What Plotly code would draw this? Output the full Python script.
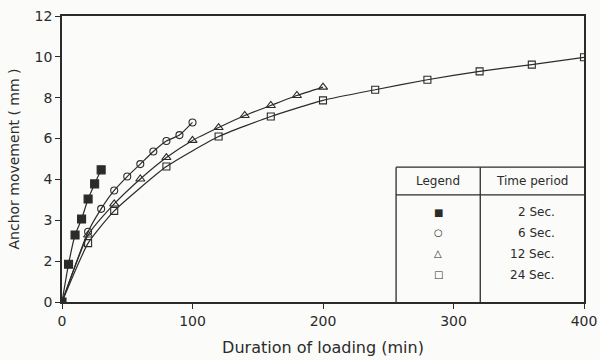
import numpy as np
import plotly.graph_objects as go

# ---- data ----
x_2s = [0, 5, 10, 15, 20, 25, 30]
y_2s = [0, 1.85, 2.64, 3.03, 3.52, 3.89, 4.47]

x_6s = [0, 20, 30, 40, 50, 60, 70, 80, 90, 100]
y_6s = [0, 2.72, 3.28, 3.73, 4.14, 4.75, 5.37, 5.88, 6.17, 6.79]

x_12s = [0, 20, 40, 60, 80, 100, 120, 140, 160, 180, 200]
y_12s = [0, 2.64, 3.40, 4.02, 5.07, 5.91, 6.54, 7.13, 7.62, 8.11, 8.52]

x_24s = [0, 20, 40, 80, 120, 160, 200, 240, 280, 320, 360, 400]
y_24s = [0, 2.44, 3.23, 4.63, 6.10, 7.08, 7.87, 8.39, 8.88, 9.29, 9.62, 9.98]

y_tick_labels = [0, 2, 3, 4, 6, 8, 10, 12]   # as printed (evenly spaced on the axis)
x_ticks = [0, 100, 200, 300, 400]

legend_periods = ["2 Sec.", "6 Sec.", "12 Sec.", "24 Sec."]
legend_symbols = ["\u25A0", "\u25CB", "\u25B3", "\u25A1"]

# ---- axis mapping: printed labels sit at equal spacing ----
tick_pos = list(range(len(y_tick_labels)))


def ymap(v):
    return np.interp(v, y_tick_labels, tick_pos)


INK = "#2b2b2b"
FONT = "DejaVu Sans"

series = [
    (x_2s, y_2s, "square", 8, True),
    (x_6s, y_6s, "circle-open", 7, False),
    (x_12s, y_12s, "triangle-up-open", 8, False),
    (x_24s, y_24s, "square-open", 7, False),
]

fig = go.Figure()
for xs, ys, sym, size, keep_origin in series:
    yp = ymap(ys)
    fig.add_trace(go.Scatter(
        x=xs, y=yp, mode="lines",
        line=dict(color=INK, width=1.2, shape="spline", smoothing=0.5),
        showlegend=False, hoverinfo="skip"))
    start = 0 if keep_origin else 1
    fig.add_trace(go.Scatter(
        x=xs[start:], y=yp[start:], mode="markers",
        marker=dict(symbol=sym, size=size, color=INK, line=dict(color=INK, width=1.1)),
        showlegend=False))

# ---- legend table (drawn as a boxed table inside the plot) ----
tx0, tx1, tx2 = 256, 320.5, 400
ty0, ty_head, ty_top = 0, 2.62, 3.30
line_style = dict(color=INK, width=1.3)
shapes = [
    dict(type="line", xref="x", yref="y", x0=tx0, x1=tx2, y0=ty_top, y1=ty_top, line=line_style),
    dict(type="line", xref="x", yref="y", x0=tx0, x1=tx2, y0=ty_head, y1=ty_head, line=line_style),
    dict(type="line", xref="x", yref="y", x0=tx0, x1=tx0, y0=ty0, y1=ty_top, line=line_style),
    dict(type="line", xref="x", yref="y", x0=tx1, x1=tx1, y0=ty0, y1=ty_top, line=line_style),
]
annotations = [
    dict(x=(tx0 + tx1) / 2, y=(ty_head + ty_top) / 2, xref="x", yref="y", text="Legend",
         showarrow=False, font=dict(family=FONT, size=12, color=INK)),
    dict(x=(tx1 + tx2) / 2, y=(ty_head + ty_top) / 2, xref="x", yref="y", text="Time period",
         showarrow=False, font=dict(family=FONT, size=12, color=INK)),
]
row_y = [2.20, 1.69, 1.18, 0.67]
for sym, lab, ry in zip(legend_symbols, legend_periods, row_y):
    annotations.append(dict(x=(tx0 + tx1) / 2, y=ry, xref="x", yref="y", text=sym,
                            showarrow=False, font=dict(family=FONT, size=10, color=INK)))
    annotations.append(dict(x=379, y=ry, xref="x", yref="y", text=lab, xanchor="right",
                            showarrow=False, font=dict(family=FONT, size=12, color=INK)))

fig.update_layout(
    width=600, height=360,
    margin=dict(l=62, r=16, t=16, b=58),
    paper_bgcolor="#fbfbf9", plot_bgcolor="#fbfbf9",
    font=dict(family=FONT, size=14, color=INK),
    shapes=shapes, annotations=annotations,
)
fig.update_xaxes(
    range=[0, 400], tickvals=x_ticks, ticktext=[str(t) for t in x_ticks],
    showline=True, mirror=True, linecolor=INK, linewidth=1.5,
    ticks="outside", ticklen=5, tickcolor=INK, tickwidth=1.2,
    showgrid=False, zeroline=False, automargin=False, ticklabeloverflow="allow",
    title=dict(text="Duration of loading (min)", font=dict(size=16), standoff=14),
)
fig.update_yaxes(
    range=[0, len(y_tick_labels) - 1], tickvals=tick_pos,
    ticktext=[str(t) for t in y_tick_labels],
    showline=True, mirror=True, linecolor=INK, linewidth=1.5,
    ticks="outside", ticklen=5, tickcolor=INK, tickwidth=1.2,
    showgrid=False, zeroline=False, automargin=False, ticklabeloverflow="allow",
    title=dict(text="Anchor movement ( mm )", font=dict(size=14), standoff=12),
)

fig.write_html(
    "out.html",
    config={"displayModeBar": False},
    post_script="document.body.style.margin='0';document.body.style.overflow='hidden';",
)
